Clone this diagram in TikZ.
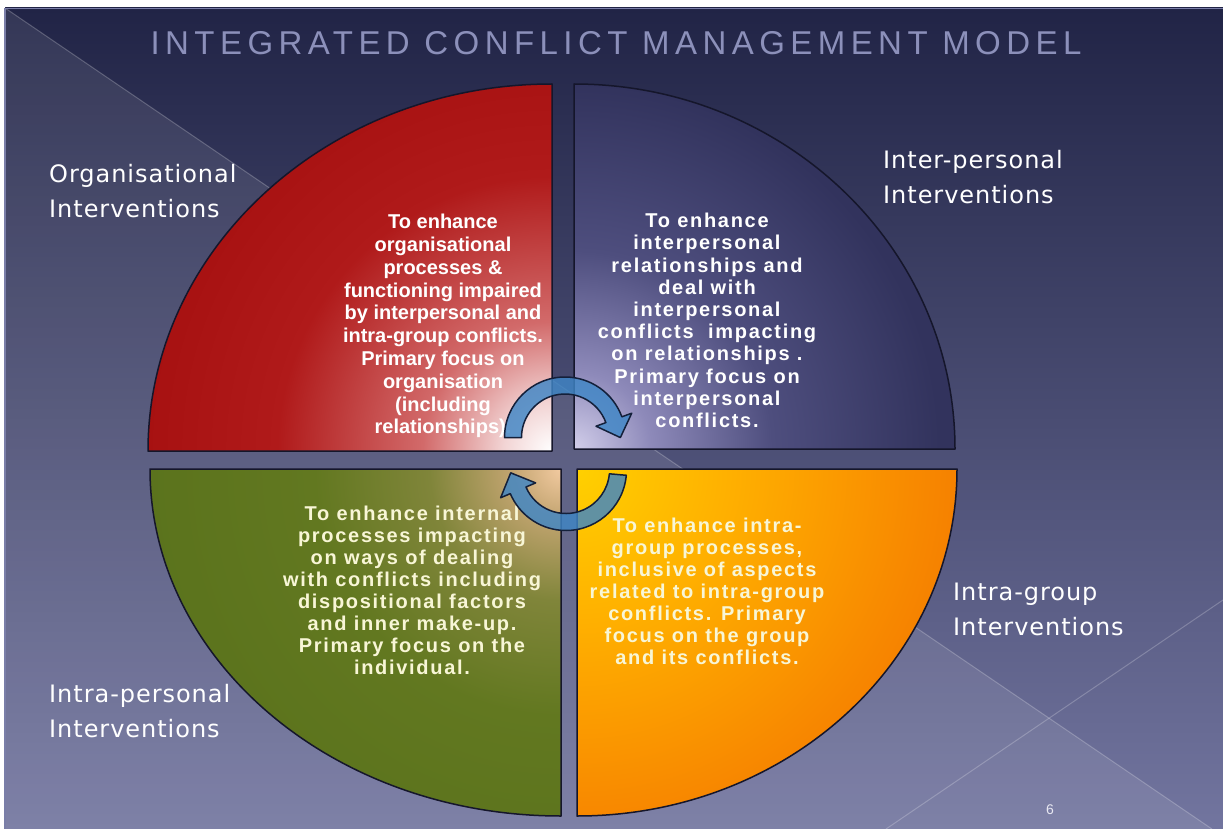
\documentclass[tikz,border=0pt]{standalone}
\usepackage{fontspec}
\setmainfont{Liberation Sans}
\newfontfamily\titlefont[LetterSpace=16.5]{Liberation Sans}
\newfontfamily\labelfont[LetterSpace=4]{DejaVu Sans}
\newfontfamily\bodyfont[LetterSpace=8.5]{Liberation Sans}
\newfontfamily\plainbody{Liberation Sans}
\usetikzlibrary{calc}

% slide palette
\definecolor{slidetop}{HTML}{212446}
\definecolor{slidemid}{HTML}{393C68}
\definecolor{slidebot}{HTML}{72759F}
\definecolor{slideedge}{HTML}{7A7EA8}
\definecolor{titlecol}{HTML}{8C90BA}
\definecolor{quadedge}{HTML}{15162B}
\definecolor{arrowblue}{HTML}{3F86C6}
\definecolor{arrowedge}{HTML}{14203A}
\definecolor{creamtext}{HTML}{F8F6D6}
\definecolor{pagenum}{HTML}{E8E8F2}

% quadrant glows (radial, centred on the inner corner)
\definecolor{redbase}{HTML}{A50F0F}
\definecolor{rgA}{HTML}{F2D4D4}
\definecolor{rgB}{HTML}{D26A6A}
\definecolor{rgC}{HTML}{B01A1A}
\definecolor{navybase}{HTML}{32335D}
\definecolor{nvA}{HTML}{D2CEEA}
\definecolor{nvB}{HTML}{8E8ABA}
\definecolor{nvC}{HTML}{4E4E7E}
\definecolor{greenbase}{HTML}{56701A}
\definecolor{grA}{HTML}{F2CAA0}
\definecolor{grB}{HTML}{C2A470}
\definecolor{grC}{HTML}{80853A}
\definecolor{grD}{HTML}{627820}
\definecolor{grE}{HTML}{4A6016}
\definecolor{orA}{HTML}{FFD000}
\definecolor{orB}{HTML}{FFB000}
\definecolor{orC}{HTML}{F88A00}
\definecolor{orD}{HTML}{EE6400}
\definecolor{orE}{HTML}{E44800}
\definecolor{orF}{HTML}{DC3A00}

\pgfdeclareradialshading{redglow}{\pgfpoint{0bp}{0bp}}{color(0bp)=(white); color(3bp)=(rgA); color(8bp)=(rgB); color(17bp)=(rgC); color(27bp)=(redbase); color(50bp)=(redbase)}
\pgfdeclareradialshading{navyglow}{\pgfpoint{0bp}{0bp}}{color(0bp)=(nvA); color(5bp)=(nvB); color(13bp)=(nvC); color(24bp)=(navybase); color(50bp)=(navybase)}
\pgfdeclareradialshading{greenglow}{\pgfpoint{0bp}{0bp}}{color(0bp)=(grA); color(3bp)=(grB); color(8bp)=(grC); color(15bp)=(grD); color(32bp)=(greenbase); color(50bp)=(grE)}
\pgfdeclareradialshading{orangeglow}{\pgfpoint{0bp}{0bp}}{color(0bp)=(orA); color(10bp)=(orB); color(22bp)=(orC); color(35bp)=(orD); color(45bp)=(orE); color(50bp)=(orF)}

\tikzset{
  quadline/.style={draw=quadedge, line width=1.5pt, line join=round},
  cyclearrow/.style={draw=arrowedge, line width=1.5pt, fill=arrowblue, fill opacity=0.82, line join=round},
  bodytext/.style={align=center, inner sep=0pt, anchor=north},
  sidelabel/.style={align=left, inner sep=0pt, anchor=north west, text=white,
    font=\labelfont\fontsize{24}{35}\selectfont},
  glowline/.style={draw=white, draw opacity=0.22, line width=1pt}
}

\begin{document}
\begin{tikzpicture}[x=1pt, y=-1pt]
\useasboundingbox (0,0) rectangle (1223,829);
\fill[white] (0,0) rectangle (1223,829);

% slide background
\shade[top color=slidetop, middle color=slidemid, bottom color=slidebot] (5,8) rectangle (1223,829);
\fill[white, opacity=0.09] (5,8) -- (1212,829) -- (5,829) -- cycle;
\draw[glowline] (5,8) -- (1212,829);
\draw[glowline] (886,829) -- (1223,600);
\draw[slideedge, line width=1.5pt] (5,829) -- (5,8.5) -- (1223,8.5);

% title
\node[text=titlecol, font=\titlefont\fontsize{33}{36}\selectfont, anchor=base, inner sep=0pt]
  (title) at (616,55) {INTEGRATED CONFLICT MANAGEMENT MODEL};

% four quadrants
\draw[quadline, fill=redbase, path picture={\shade[shading=redglow] (552,451) circle[radius=404];}]
  (552,451) -- (148,451) arc[start angle=180, end angle=270, x radius=404, y radius=367] -- cycle;
\draw[quadline, fill=navybase, path picture={\shade[shading=navyglow] (574,449) circle[radius=381];}]
  (574,449) -- (574,84) arc[start angle=270, end angle=360, x radius=381, y radius=365] -- cycle;
\draw[quadline, fill=greenbase, path picture={\shade[shading=greenglow] (561,469) circle[radius=411];}]
  (561,469) -- (150,469) arc[start angle=180, end angle=90, x radius=411, y radius=347] -- cycle;
\draw[quadline, fill=orE, path picture={\shade[shading=orangeglow] (577,469) circle[radius=380];}]
  (577,469) -- (957,469) arc[start angle=0, end angle=90, x radius=380, y radius=347] -- cycle;

% quadrant texts
\node[bodytext, text=white, font=\plainbody\bfseries\fontsize{20}{22.8}\selectfont] (orgtext) at (443,214)
  {To enhance\\organisational\\processes \&\\functioning impaired\\by interpersonal and\\intra-group conflicts.\\Primary focus on\\organisation\\(including\\relationships).};
\node[bodytext, text=white, font=\bodyfont\bfseries\fontsize{20}{22.2}\selectfont] (intertext) at (707,213)
  {To enhance\\interpersonal\\relationships and\\deal with\\interpersonal\\conflicts \ impacting\\on relationships .\\Primary focus on\\interpersonal\\conflicts.};
\node[bodytext, text=creamtext, font=\bodyfont\bfseries\fontsize{20}{22}\selectfont] (intratext) at (412,506)
  {To enhance internal\\processes impacting\\on ways of dealing\\with conflicts including\\dispositional factors\\and inner make-up.\\Primary focus on the\\individual.};
\node[bodytext, text=creamtext, font=\bodyfont\bfseries\fontsize{20}{22}\selectfont] (grouptext) at (707,518)
  {To enhance intra-\\group processes,\\inclusive of aspects\\related to intra-group\\conflicts. Primary\\focus on the group\\and its conflicts.};

% side labels
\node[sidelabel] (orglabel) at (49,164) {Organisational\\Interventions};
\node[sidelabel] (interlabel) at (883,150) {Inter-personal\\Interventions};
\node[sidelabel] (grouplabel) at (953,583) {Intra-group\\Interventions};
\node[sidelabel] (intralabel) at (49,684) {Intra-personal\\Interventions};

% cycle arrows
\coordinate (c1) at (565,437.5);
\coordinate (c2) at (566,470);
\draw[cyclearrow] ($(c1)+(180:43.5)$) -- ($(c1)+(180:60.5)$)
  arc[start angle=180, end angle=340, radius=60.5]
  -- ($(c1)+(340:71)$) -- ($(c1)+(340:52)+(70:19)$) -- ($(c1)+(340:33)$)
  -- ($(c1)+(340:43.5)$) arc[start angle=340, end angle=180, radius=43.5] -- cycle;
\draw[cyclearrow] ($(c2)+(5:43.5)$) -- ($(c2)+(5:60.5)$)
  arc[start angle=5, end angle=157, radius=60.5]
  -- ($(c2)+(157:71)$) -- ($(c2)+(157:52)+(247:19)$) -- ($(c2)+(157:33)$)
  -- ($(c2)+(157:43.5)$) arc[start angle=157, end angle=5, radius=43.5] -- cycle;

% page number
\node[text=pagenum, font=\fontsize{14}{14}\selectfont, inner sep=0pt] (page) at (1050,810) {6};
\end{tikzpicture}
\end{document}
